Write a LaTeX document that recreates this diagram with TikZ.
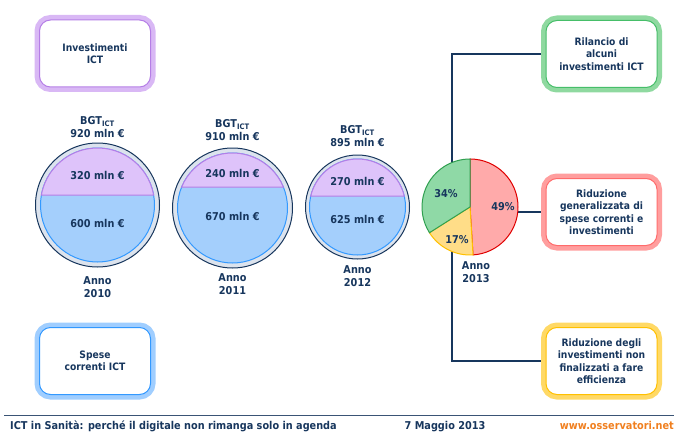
\documentclass[tikz,border=0pt]{standalone}
\usepackage{fontspec}
\setmainfont{DejaVu Sans}[FakeStretch=0.9]
\usetikzlibrary{positioning, calc, backgrounds}

\definecolor{navy}{RGB}{23,54,93}
\definecolor{violetL}{RGB}{217,184,245}
\definecolor{violetD}{RGB}{181,126,230}
\definecolor{blueL}{RGB}{160,206,255}
\definecolor{blueD}{RGB}{51,153,255}
\definecolor{greenL}{RGB}{143,217,160}
\definecolor{greenD}{RGB}{70,190,105}
\definecolor{redL}{RGB}{255,158,158}
\definecolor{redD}{RGB}{255,107,107}
\definecolor{yellowL}{RGB}{255,217,102}
\definecolor{yellowD}{RGB}{255,192,0}
\definecolor{ringgray}{RGB}{220,227,237}
\definecolor{segPfill}{RGB}{222,195,250}
\definecolor{segBfill}{RGB}{164,207,252}
\definecolor{pieRfill}{RGB}{255,170,170}
\definecolor{pieRdraw}{RGB}{224,0,0}
\definecolor{pieYfill}{RGB}{255,221,136}
\definecolor{pieYdraw}{RGB}{255,192,0}
\definecolor{pieGfill}{RGB}{143,217,166}
\definecolor{pieGdraw}{RGB}{48,160,80}
\definecolor{urlorange}{RGB}{240,127,31}

\begin{document}
\begin{tikzpicture}[x=1pt, y=1pt,
  box/.style={rectangle, rounded corners=11pt, draw=#1D, line width=1pt, fill=white,
    preaction={draw=#1L, line width=10pt}, minimum width=111pt, minimum height=67pt,
    align=center, text=navy, font=\bfseries\fontsize{10.2}{12.5}\selectfont},
  ring/.style={circle, draw=navy, line width=1pt, fill=ringgray, inner sep=0pt},
  segB/.style={fill=segBfill, draw=blueD, line width=1pt},
  segP/.style={fill=segPfill, draw=violetD, line width=1pt},
  lbl/.style={align=center, text=navy, inner sep=1pt, font=\bfseries\fontsize{10.8}{12.5}\selectfont},
  conn/.style={draw=navy, line width=1.2pt},
  foot/.style={text=navy, inner sep=0pt, font=\bfseries\fontsize{10.8}{12}\selectfont}]

\useasboundingbox (0,0) rectangle (674,432);

% budget categories
\node[box=violet] (invest) at (95,378.5) {Investimenti\\ICT};
\node[box=blue] (spese) at (95,71) {Spese\\correnti ICT};

% strategies 2013
\node[box=green] (rilancio) at (601.5,378) {Rilancio di\\alcuni\\investimenti ICT};
\node[box=red] (riduzione) at (601.5,220) {Riduzione\\generalizzata di\\spese correnti e\\investimenti};
\node[box=yellow] (ridEff) at (601.5,71) {Riduzione degli\\investimenti non\\finalizzati a fare\\efficienza};

% 2010
\node[ring, minimum size=124pt] (c2010) at (97.5,227) {};
\filldraw[segB] (c2010.center) circle[radius=57];
\filldraw[segP] ($(c2010.center)+(10.1:57)$) arc[start angle=10.1, end angle=169.9, radius=57] -- cycle;
\node[lbl] (p2010) at ($(c2010.center)+(0,30)$) {320 mln €};
\node[lbl] (b2010) at ($(c2010.center)+(0,-18)$) {600 mln €};
\node[lbl, above=4pt of c2010] (bgt2010) {BGT\textsubscript{ICT}\\920 mln €};
\node[lbl, below=8pt of c2010] (y2010) {Anno\\2010};

% 2011
\node[ring, minimum size=120pt] (c2011) at (232.5,224) {};
\filldraw[segB] (c2011.center) circle[radius=55];
\filldraw[segP] ($(c2011.center)+(22.4:55)$) arc[start angle=22.4, end angle=157.6, radius=55] -- cycle;
\node[lbl] (p2011) at ($(c2011.center)+(0,35)$) {240 mln €};
\node[lbl] (b2011) at ($(c2011.center)+(0,-8)$) {670 mln €};
\node[lbl, above=6pt of c2011] (bgt2011) {BGT\textsubscript{ICT}\\910 mln €};
\node[lbl, below=4pt of c2011] (y2011) {Anno\\2011};

% 2012
\node[ring, minimum size=104pt] (c2012) at (357.5,225) {};
\filldraw[segB] (c2012.center) circle[radius=48];
\filldraw[segP] ($(c2012.center)+(13.2:48)$) arc[start angle=13.2, end angle=166.8, radius=48] -- cycle;
\node[lbl] (p2012) at ($(c2012.center)+(0,26)$) {270 mln €};
\node[lbl] (b2012) at ($(c2012.center)+(0,-12)$) {625 mln €};
\node[lbl, above=7pt of c2012] (bgt2012) {BGT\textsubscript{ICT}\\895 mln €};
\node[lbl, below=5pt of c2012] (y2012) {Anno\\2012};

% 2013 pie
\node[circle, minimum size=96pt, inner sep=0pt] (pie) at (470,225) {};
\filldraw[fill=pieRfill, draw=pieRdraw, line width=1pt] (pie.center) -- ++(90:48) arc[start angle=90, end angle=-86.4, radius=48] -- cycle;
\filldraw[fill=pieYfill, draw=pieYdraw, line width=1pt] (pie.center) -- ++(-86.4:48) arc[start angle=-86.4, end angle=-147.6, radius=48] -- cycle;
\filldraw[fill=pieGfill, draw=pieGdraw, line width=1pt] (pie.center) -- ++(-147.6:48) arc[start angle=-147.6, end angle=-270, radius=48] -- cycle;
\node[lbl] (pct49) at ($(pie.center)+(33,0)$) {49\%};
\node[lbl] (pct34) at ($(pie.center)+(-24,13)$) {34\%};
\node[lbl] (pct17) at ($(pie.center)+(-13,-33)$) {17\%};
\node[lbl] (y2013) at (476,160) {Anno\\2013};

% tree to the strategies
\coordinate (trunk) at (452,220);
\begin{scope}[on background layer]
\draw[conn] (rilancio.west) -| (trunk) |- (ridEff.west);
\draw[conn] (trunk) -- (riduzione.west);
\end{scope}

% footer
\draw[draw=navy!85, line width=1pt] (4,17) -- (674,17);
\node[foot, anchor=base west] (title) at (10,3) {ICT in Sanità: perché il digitale non rimanga solo in agenda};
\node[foot, anchor=base] (date) at (445,3) {7 Maggio 2013};
\node[foot, anchor=base east, text=urlorange] (url) at (674,3) {www.osservatori.net};

\end{tikzpicture}
\end{document}
